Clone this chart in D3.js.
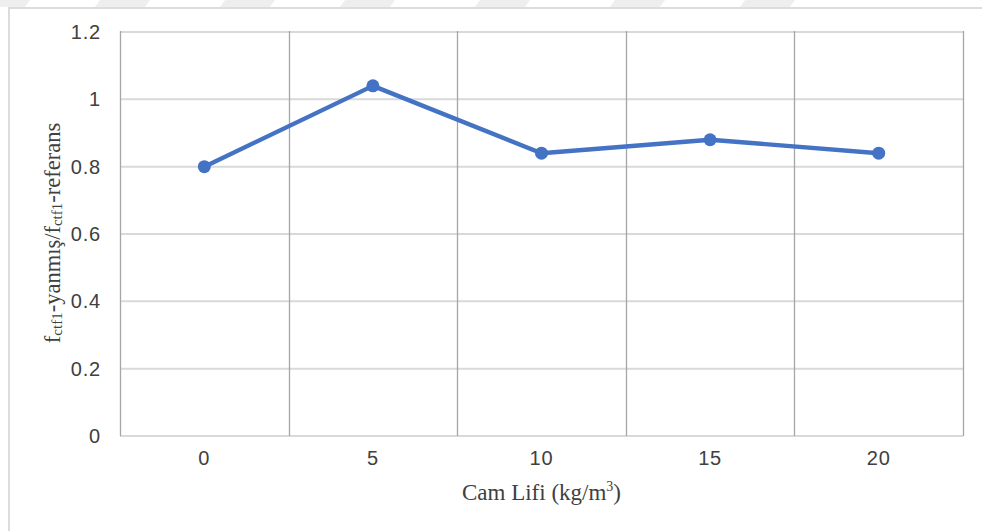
<!DOCTYPE html>
<html>
<head>
<meta charset="utf-8">
<script src="https://cdn.jsdelivr.net/npm/d3@7"></script>
<style>
  html, body { margin: 0; padding: 0; background: #fff; }
  svg { display: block; }
</style>
</head>
<body>
<svg id="chart" width="982" height="531"></svg>
<script>
// Glass fibre dosage (kg/m3) and residual strength ratio after fire
const categories = ["0", "5", "10", "15", "20"];
const ratioValues = [0.80, 1.04, 0.84, 0.88, 0.84];
const yTicks = [0, 0.2, 0.4, 0.6, 0.8, 1, 1.2];
const yTickLabels = ["0", "0.2", "0.4", "0.6", "0.8", "1", "1.2"];

const svg = d3.select("#chart");
const W = 982, H = 531;
const m = { left: 120, right: 963, top: 32, bottom: 436 };
const sansFont = "Liberation Sans, Arial, sans-serif";
const serifFont = "Liberation Serif, Times New Roman, serif";

// faint diagonal stripes along the top edge
const stripeStarts = [-20, 100, 225, 345, 480, 615, 745];
svg.append("g").selectAll("path").data(stripeStarts).join("path")
  .attr("d", s => `M${s},0 L${s + 50},0 L${s + 45},7 L${s - 5},7 Z`)
  .attr("fill", "#eeeeee");

// card border
svg.append("path")
  .attr("d", `M9,${H} L9,8 L${W},8`)
  .attr("fill", "none").attr("stroke", "#dcdcdc").attr("stroke-width", 2);

const x = d3.scaleBand().domain(categories).range([m.left, m.right]).padding(0);
const y = d3.scaleLinear().domain([0, 1.2]).range([m.bottom, m.top]);

// horizontal gridlines
svg.append("g").selectAll("line").data(yTicks).join("line")
  .attr("x1", m.left).attr("x2", m.right)
  .attr("y1", d => y(d)).attr("y2", d => y(d))
  .attr("stroke", "#d9d9d9").attr("stroke-width", 2);

// vertical category boundaries
const bounds = categories.map(c => x(c)).concat([x(categories[categories.length - 1]) + x.bandwidth()]);
svg.append("g").selectAll("line").data(bounds).join("line")
  .attr("x1", d => Math.round(d) + 0.5).attr("x2", d => Math.round(d) + 0.5)
  .attr("y1", m.top - 1).attr("y2", m.bottom)
  .attr("stroke", "#a6a6a6").attr("stroke-width", 1.3);

// y axis labels
const yAxis = d3.axisLeft(y).tickValues(yTicks)
  .tickFormat((d, i) => yTickLabels[i]).tickSize(0).tickPadding(19);
const ya = svg.append("g").attr("transform", `translate(${m.left},0)`).call(yAxis);
ya.select(".domain").remove();
ya.selectAll("text")
  .attr("font-family", sansFont)
  .attr("font-size", 20).attr("letter-spacing", 0.8).attr("fill", "#404040");

// x axis labels
const xAxis = d3.axisBottom(x).tickSize(0).tickPadding(15);
const xa = svg.append("g").attr("transform", `translate(0,${m.bottom})`).call(xAxis);
xa.select(".domain").remove();
xa.selectAll("text")
  .attr("font-family", sansFont)
  .attr("font-size", 20).attr("letter-spacing", 0.8).attr("fill", "#404040");

// series line and markers
const cx = c => x(c) + x.bandwidth() / 2;
const pts = categories.map((c, i) => [cx(c), y(ratioValues[i])]);
svg.append("path")
  .datum(pts)
  .attr("d", d3.line())
  .attr("fill", "none").attr("stroke", "#4472C4")
  .attr("stroke-width", 4.4).attr("stroke-linejoin", "round");
svg.append("g").selectAll("circle").data(pts).join("circle")
  .attr("cx", d => d[0]).attr("cy", d => d[1]).attr("r", 6.5)
  .attr("fill", "#4472C4");

// x axis title
const xt = svg.append("text")
  .attr("x", (m.left + m.right) / 2).attr("y", 500)
  .attr("text-anchor", "middle")
  .attr("font-family", serifFont)
  .attr("font-size", 23).attr("fill", "#404040");
xt.append("tspan").text("Cam Lifi (kg/m");
xt.append("tspan").text("3").attr("font-size", 14).attr("dy", -9);
xt.append("tspan").text(")").attr("dy", 9);

// y axis title with subscripts
const yt = svg.append("text")
  .attr("transform", "translate(60,233) rotate(-90)")
  .attr("text-anchor", "middle")
  .attr("font-family", serifFont)
  .attr("font-size", 22.5).attr("fill", "#404040");
yt.append("tspan").text("f");
yt.append("tspan").text("ctf1").attr("font-size", 15).attr("dy", 2);
yt.append("tspan").text("-yanmış/f").attr("dy", -2);
yt.append("tspan").text("ctf1").attr("font-size", 15).attr("dy", 2);
yt.append("tspan").text("-referans").attr("dy", -2);
</script>
</body>
</html>
